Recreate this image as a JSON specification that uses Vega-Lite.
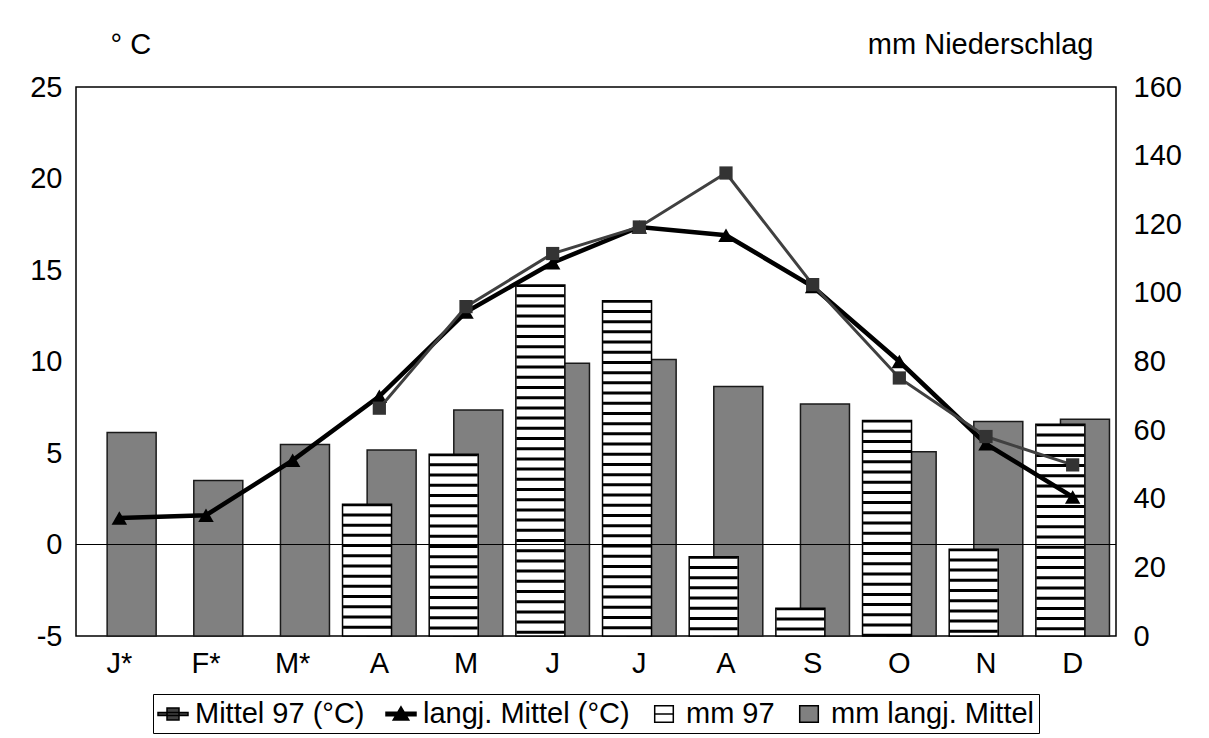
{
  "$schema": "https://vega.github.io/schema/vega-lite/v6.json",
  "autosize": "none",
  "width": 1040,
  "height": 549,
  "padding": {"left": 76, "top": 87, "right": 93, "bottom": 102},
  "background": "white",
  "datasets": {
    "niederschlag": [
      {"nr": 1, "series": "mm langj. Mittel", "mm": 59.3},
      {"nr": 2, "series": "mm langj. Mittel", "mm": 45.3},
      {"nr": 3, "series": "mm langj. Mittel", "mm": 55.8},
      {"nr": 4, "series": "mm langj. Mittel", "mm": 54.2},
      {"nr": 5, "series": "mm langj. Mittel", "mm": 65.9},
      {"nr": 6, "series": "mm langj. Mittel", "mm": 79.5},
      {"nr": 7, "series": "mm langj. Mittel", "mm": 80.6},
      {"nr": 8, "series": "mm langj. Mittel", "mm": 72.7},
      {"nr": 9, "series": "mm langj. Mittel", "mm": 67.6},
      {"nr": 10, "series": "mm langj. Mittel", "mm": 53.7},
      {"nr": 11, "series": "mm langj. Mittel", "mm": 62.5},
      {"nr": 12, "series": "mm langj. Mittel", "mm": 63.2},
      {"nr": 4, "series": "mm 97", "mm": 38.4},
      {"nr": 5, "series": "mm 97", "mm": 53.0},
      {"nr": 6, "series": "mm 97", "mm": 102.3},
      {"nr": 7, "series": "mm 97", "mm": 97.7},
      {"nr": 8, "series": "mm 97", "mm": 23.1},
      {"nr": 9, "series": "mm 97", "mm": 8.1},
      {"nr": 10, "series": "mm 97", "mm": 62.8},
      {"nr": 11, "series": "mm 97", "mm": 25.3},
      {"nr": 12, "series": "mm 97", "mm": 61.7}
    ],
    "temperatur": [
      {"nr": 1, "series": "langj. Mittel (°C)", "t": 1.45},
      {"nr": 2, "series": "langj. Mittel (°C)", "t": 1.6},
      {"nr": 3, "series": "langj. Mittel (°C)", "t": 4.6},
      {"nr": 4, "series": "langj. Mittel (°C)", "t": 8.1},
      {"nr": 5, "series": "langj. Mittel (°C)", "t": 12.7},
      {"nr": 6, "series": "langj. Mittel (°C)", "t": 15.4},
      {"nr": 7, "series": "langj. Mittel (°C)", "t": 17.35},
      {"nr": 8, "series": "langj. Mittel (°C)", "t": 16.9},
      {"nr": 9, "series": "langj. Mittel (°C)", "t": 14.1},
      {"nr": 10, "series": "langj. Mittel (°C)", "t": 10.0},
      {"nr": 11, "series": "langj. Mittel (°C)", "t": 5.5},
      {"nr": 12, "series": "langj. Mittel (°C)", "t": 2.6},
      {"nr": 4, "series": "Mittel 97 (°C)", "t": 7.45},
      {"nr": 5, "series": "Mittel 97 (°C)", "t": 13.0},
      {"nr": 6, "series": "Mittel 97 (°C)", "t": 15.9},
      {"nr": 7, "series": "Mittel 97 (°C)", "t": 17.35},
      {"nr": 8, "series": "Mittel 97 (°C)", "t": 20.3},
      {"nr": 9, "series": "Mittel 97 (°C)", "t": 14.2},
      {"nr": 10, "series": "Mittel 97 (°C)", "t": 9.1},
      {"nr": 11, "series": "Mittel 97 (°C)", "t": 5.9},
      {"nr": 12, "series": "Mittel 97 (°C)", "t": 4.35}
    ]
  },
  "encoding": {
    "x": {
      "field": "nr",
      "type": "ordinal",
      "scale": {"paddingInner": 0, "paddingOuter": 0},
      "axis": {
        "title": null,
        "labelAngle": 0,
        "labelExpr": "['J*','F*','M*','A','M','J','J','A','S','O','N','D'][datum.value - 1]",
        "ticks": false,
        "domain": false,
        "labelFontSize": 29,
        "labelPadding": 13
      }
    }
  },
  "layer": [
    {
      "data": {"name": "niederschlag"},
      "encoding": {
        "y": {
          "field": "mm",
          "type": "quantitative",
          "scale": {"domain": [0, 160], "nice": false, "zero": true},
          "axis": {
            "orient": "right",
            "values": [0, 20, 40, 60, 80, 100, 120, 140, 160],
            "grid": false,
            "ticks": false,
            "domain": false,
            "labelFontSize": 29,
            "labelPadding": 17,
            "title": "mm Niederschlag",
            "titleAngle": 0,
            "titleFontSize": 29,
            "titleAlign": "right",
            "titleBaseline": "alphabetic",
            "titleX": -23,
            "titleY": -34
          }
        }
      },
      "layer": [
        {
          "transform": [{"filter": "datum.series === 'mm langj. Mittel'"}],
          "mark": {"type": "bar", "width": 49, "xOffset": 12.3, "color": "#808080", "stroke": "#1a1a1a", "strokeWidth": 1.5}
        },
        {
          "transform": [{"filter": "datum.series === 'mm 97'"}],
          "mark": {"type": "bar", "width": 49, "xOffset": -12.3, "color": "#ffffff", "stroke": "#000000", "strokeWidth": 1.5}
        },
        {
          "transform": [{"filter": "datum.series === 'mm 97'"}],
          "mark": {"type": "rule", "xOffset": -12.3, "color": "#000000", "strokeWidth": 48, "strokeCap": "butt", "strokeDash": [3, 7.2], "strokeDashOffset": 1},
          "encoding": {
            "y2": {"datum": 0}
          }
        }
      ]
    },
    {
      "data": {"name": "temperatur"},
      "encoding": {
        "y": {
          "field": "t",
          "type": "quantitative",
          "scale": {"domain": [-5, 25], "nice": false, "zero": false},
          "axis": {
            "orient": "left",
            "values": [-5, 0, 5, 10, 15, 20, 25],
            "labelExpr": "'' + datum.value",
            "grid": false,
            "ticks": false,
            "domain": false,
            "labelFontSize": 29,
            "labelPadding": 14,
            "title": "° C",
            "titleAngle": 0,
            "titleFontSize": 29,
            "titleAlign": "left",
            "titleBaseline": "alphabetic",
            "titleX": 34,
            "titleY": -34
          }
        }
      },
      "layer": [
        {
          "mark": {"type": "rule", "color": "#000000", "strokeWidth": 1.2},
          "encoding": {"y": {"datum": 0}, "x": null}
        },
        {
          "transform": [{"filter": "datum.series === 'langj. Mittel (°C)'"}],
          "mark": {"type": "line", "color": "#000000", "strokeWidth": 4.5}
        },
        {
          "transform": [{"filter": "datum.series === 'langj. Mittel (°C)'"}],
          "mark": {"type": "point", "shape": "triangle-up", "filled": true, "color": "#000000", "size": 240, "opacity": 1}
        },
        {
          "transform": [{"filter": "datum.series === 'Mittel 97 (°C)'"}],
          "mark": {"type": "line", "color": "#404040", "strokeWidth": 3}
        },
        {
          "transform": [{"filter": "datum.series === 'Mittel 97 (°C)'"}],
          "mark": {"type": "point", "shape": "square", "filled": true, "color": "#333333", "size": 175, "opacity": 1}
        },
        {
          "description": "Legend carrier: draws no marks, only supplies the combined colour/shape legend for all four series.",
          "transform": [{"filter": "false"}],
          "mark": {"type": "point", "filled": true, "opacity": 1, "stroke": "#000000", "strokeWidth": 1.5},
          "encoding": {
            "color": {
              "field": "series",
              "type": "nominal",
              "scale": {
                "domain": ["Mittel 97 (°C)", "langj. Mittel (°C)", "mm 97", "mm langj. Mittel"],
                "range": ["#404040", "#000000", "#ffffff", "#808080"]
              },
              "legend": {
                "orient": "none",
                "legendX": 77,
                "legendY": 607,
                "direction": "horizontal",
                "columns": 4,
                "title": null,
                "strokeColor": "#000000",
                "fillColor": "#ffffff",
                "padding": 4,
                "cornerRadius": 0,
                "symbolSize": 900,
                "labelFontSize": 29,
                "labelLimit": 500,
                "labelOffset": 6,
                "columnPadding": 18,
                "labelColor": "#000000"
              }
            },
            "shape": {
              "field": "series",
              "type": "nominal",
              "scale": {
                "domain": ["Mittel 97 (°C)", "langj. Mittel (°C)", "mm 97", "mm langj. Mittel"],
                "range": [
                  "M-1,-0.1H1V0.1H-1Z M-0.4,-0.4H0.4V0.4H-0.4Z",
                  "M-1,-0.11H1V0.11H-1Z M0,-0.48L0.52,0.4H-0.52Z",
                  "M-0.62,-0.55H0.62V0.55H-0.62Z M-0.62,0H0.62",
                  "M-0.62,-0.55H0.62V0.55H-0.62Z"
                ]
              },
              "legend": {
                "orient": "none",
                "legendX": 77,
                "legendY": 607,
                "direction": "horizontal",
                "columns": 4,
                "title": null,
                "strokeColor": "#000000",
                "fillColor": "#ffffff",
                "padding": 4,
                "cornerRadius": 0,
                "symbolSize": 900,
                "labelFontSize": 29,
                "labelLimit": 500,
                "labelOffset": 6,
                "columnPadding": 18,
                "labelColor": "#000000"
              }
            }
          }
        }
      ]
    }
  ],
  "resolve": {"scale": {"y": "independent"}},
  "config": {
    "view": {"stroke": "#000000", "strokeWidth": 1.5},
    "font": "Liberation Sans",
    "axis": {
      "labelFont": "Liberation Sans",
      "titleFont": "Liberation Sans",
      "titleFontWeight": "normal",
      "labelColor": "#000000",
      "titleColor": "#000000"
    },
    "legend": {
      "labelFont": "Liberation Sans"
    }
  }
}
